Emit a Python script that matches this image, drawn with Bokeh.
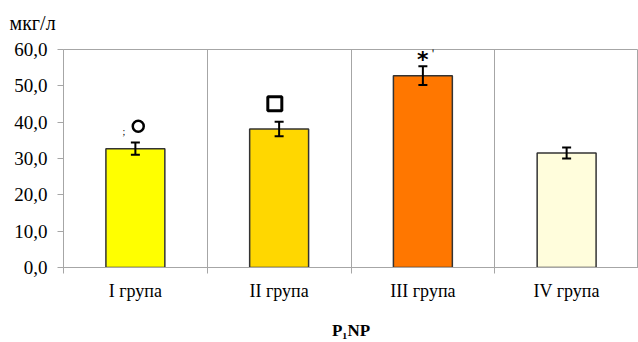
from bokeh.plotting import figure
from bokeh.models import (ColumnDataSource, FixedTicker, Whisker, TeeHead, Title)
from bokeh.core.properties import value
from bokeh.embed import file_html
from bokeh.resources import INLINE

groups = ["I група", "II група", "III група", "IV група"]
means = [32.7, 38.1, 52.8, 31.5]
errors = [1.7, 2.0, 2.6, 1.5]
colors = ["#FFFF00", "#FFD700", "#FF7700", "#FFFDDC"]
y_ticks = [0, 10, 20, 30, 40, 50, 60]
y_tick_labels = ["0,0", "10,0", "20,0", "30,0", "40,0", "50,0", "60,0"]
unit_label = "мкг/л"

# significance markers
circle_x = [0.52]
circle_y = [38.9]
square_x = [1.47]
square_y = [45.1]
star_x = [2.5]
star_y = [57.3]
star_text = ["*"]
tick_mark_x = [2.57]
tick_mark_y = [58.6]
tick_mark_text = ["'"]
dot_x = [0.42]
dot_y = [37.4]
dot_text = [";"]

FONT = "Liberation Serif"
GRID = "#a6a6a6"

xs = [i + 0.5 for i in range(len(groups))]
src = ColumnDataSource(dict(
    x=xs, top=means, color=colors,
    upper=[m + e for m, e in zip(means, errors)],
    lower=[m - e for m, e in zip(means, errors)],
))

p = figure(width=638, height=342, x_range=(0, 4), y_range=(0, 60),
           output_backend="svg", toolbar_location=None,
           min_border_left=63, min_border_right=0, min_border_top=49,
           min_border_bottom=71)

# spacer title next to the frame, then the unit title above it
p.add_layout(Title(text=" ", align="left", text_font=FONT,
                   text_font_size="12px", standoff=0), "above")
p.add_layout(Title(text=unit_label, align="left", offset=-54,
                   text_font=FONT, text_font_size="20px",
                   text_font_style="normal", text_color="black",
                   standoff=0), "above")

p.vbar(x="x", top="top", width=0.41, source=src, fill_color="color",
       line_color="#333333", line_width=1.5)

p.add_layout(Whisker(base="x", upper="upper", lower="lower", source=src,
                     level="overlay",
                     line_color="black", line_width=2,
                     upper_head=TeeHead(size=9, line_width=2, line_color="black"),
                     lower_head=TeeHead(size=9, line_width=2, line_color="black")))

p.scatter(circle_x, circle_y, marker="circle", size=11, fill_color=None,
          line_color="black", line_width=2.5)
p.scatter(square_x, square_y, marker="square", size=14, fill_color=None,
          line_color="black", line_width=3)
p.text(star_x, star_y, text=star_text, text_align="center",
       text_baseline="middle", text_font=value("DejaVu Sans"),
       text_font_size="22px", text_font_style="bold", text_color="black")
p.text(tick_mark_x, tick_mark_y, text=tick_mark_text, text_align="center",
       text_baseline="middle", text_font=value(FONT),
       text_font_size="14px", text_color="black")
p.text(dot_x, dot_y, text=dot_text, text_align="center",
       text_baseline="middle", text_font=value(FONT),
       text_font_size="10px", text_color="black")

# axes
p.xaxis.ticker = FixedTicker(ticks=xs, minor_ticks=[0, 1, 2, 3, 4])
p.xaxis.major_label_overrides = {x: g for x, g in zip(xs, groups)}
p.xaxis.major_tick_out = 0
p.xaxis.major_tick_in = 0
p.xaxis.minor_tick_out = 6
p.xaxis.minor_tick_in = 0
p.xaxis.minor_tick_line_color = GRID
p.xaxis.axis_line_color = GRID
p.xaxis.major_label_text_font = FONT
p.xaxis.major_label_text_font_size = "18px"
p.xaxis.major_label_text_color = "black"
p.xaxis.major_label_standoff = 7
p.xaxis.axis_label = "P₁NP"
p.xaxis.axis_label_text_font = FONT
p.xaxis.axis_label_text_font_size = "17px"
p.xaxis.axis_label_text_font_style = "bold"
p.xaxis.axis_label_text_color = "black"
p.xaxis.axis_label_standoff = 17

p.yaxis.ticker = FixedTicker(ticks=y_ticks)
p.yaxis.major_label_overrides = {t: l for t, l in zip(y_ticks, y_tick_labels)}
p.yaxis.major_tick_out = 6
p.yaxis.major_tick_in = 0
p.yaxis.minor_tick_line_color = None
p.yaxis.major_tick_line_color = GRID
p.yaxis.axis_line_color = GRID
p.yaxis.major_label_text_font = FONT
p.yaxis.major_label_text_font_size = "19px"
p.yaxis.major_label_text_color = "black"
p.yaxis.major_label_standoff = 10

p.ygrid.grid_line_color = None
p.xgrid.ticker = FixedTicker(ticks=[1, 2, 3])
p.xgrid.grid_line_color = GRID
p.outline_line_color = GRID

open("out.html", "w").write(file_html(p, INLINE))
